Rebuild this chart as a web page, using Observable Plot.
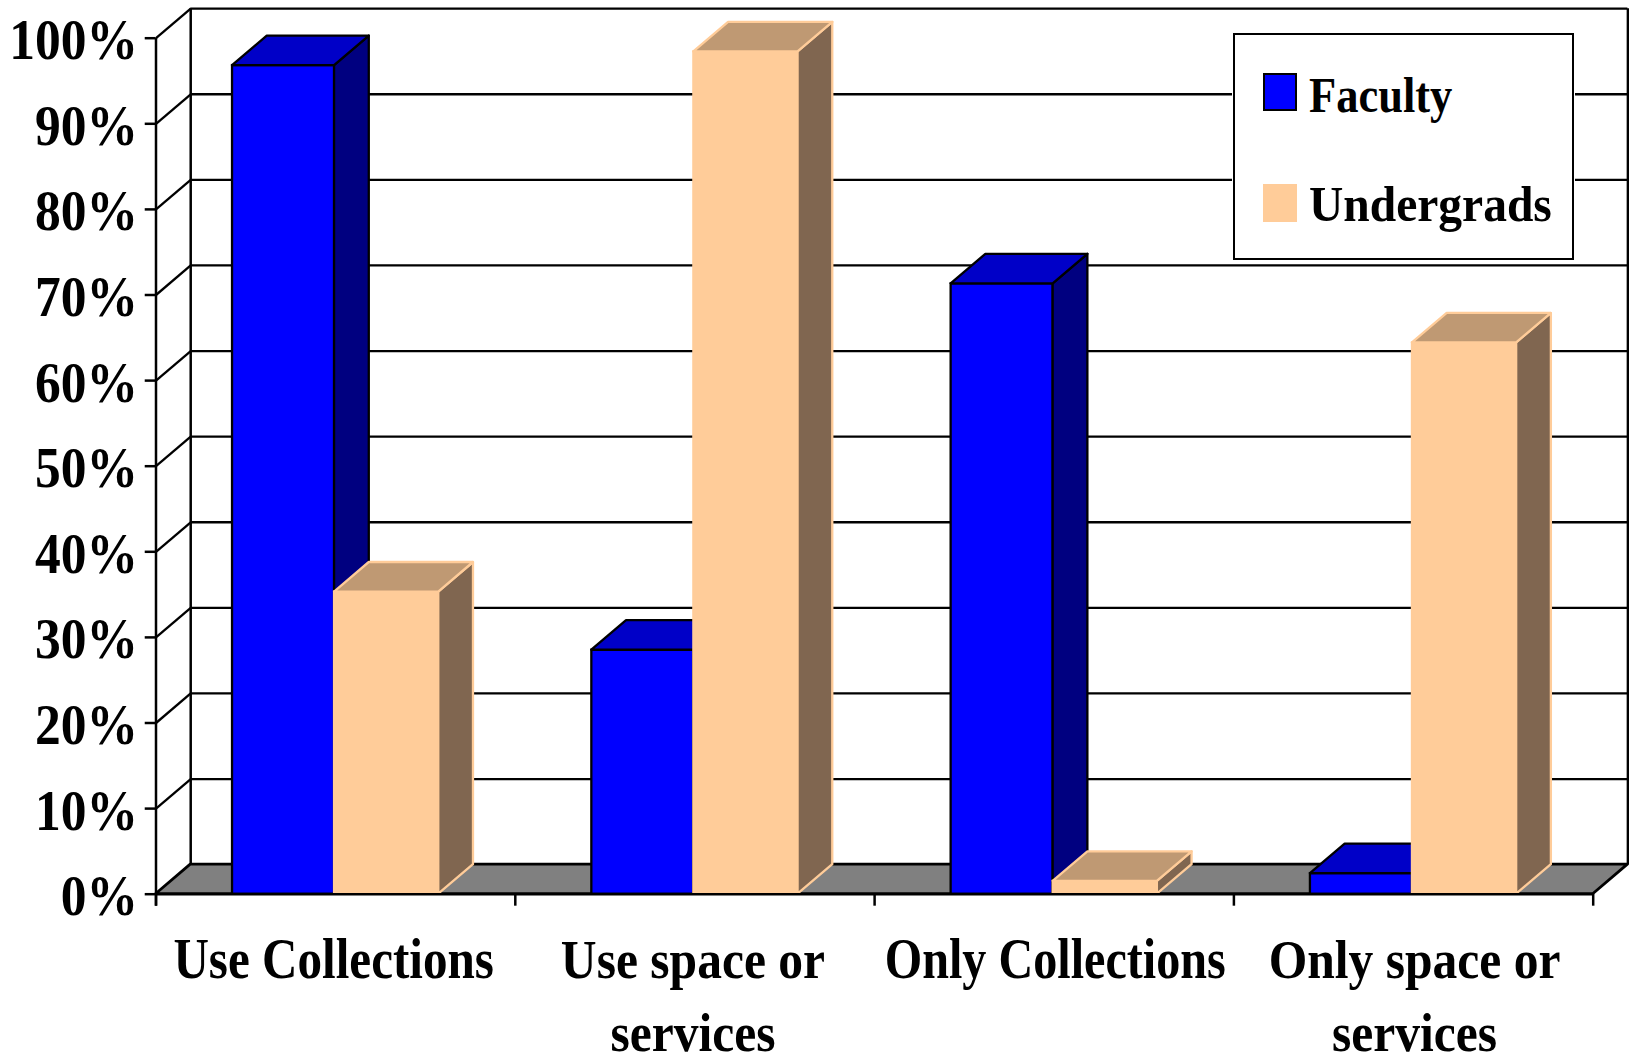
<!DOCTYPE html>
<html><head><meta charset="utf-8">
<script src="https://cdn.jsdelivr.net/npm/d3@7"></script>
<script src="https://cdn.jsdelivr.net/npm/@observablehq/plot@0.6"></script>
<style>
html,body{margin:0;padding:0;background:#fff;overflow:hidden}
#wrap{position:relative;width:1629px;height:1054px}
svg{display:block}
#legend{position:absolute;left:1233px;top:33px;width:337px;height:223px;border:2px solid #000;background:#fff;
 font:bold 50px "Liberation Serif",serif;color:#000;box-shadow:0 0 0 1px #fff}
#legend .row{position:absolute;left:0;height:50px;white-space:nowrap}
#legend i{position:absolute;left:28px;top:0;width:30px;height:34px;box-sizing:content-box}
#legend span{position:absolute;left:74px;top:-7px;display:block;transform-origin:0 50%}
</style></head><body><div id="wrap"></div>
<script>
const categories = ["Use Collections", "Use space or\nservices", "Only Collections", "Only space or\nservices"];
const faculty = [96.8, 28.5, 71.3, 2.4];
const undergrads = [35.3, 98.4, 1.5, 64.4];
const yTicks = [0,10,20,30,40,50,60,70,80,90,100];
const seriesNames = ["Faculty", "Undergrads"];

const DX = 0.0966, DY = 3.45;          // depth of the 3D projection, in data units
const fs = {f:"#0000ff", t:"#0000c8", s:"#000080", l:"#000"};
const us = {f:"#ffcc99", t:"#bf9973", s:"#806650", l:"#ffcc99"};

function bar(l, r, v, c) {
  return [
    Plot.rect([0], {x1:l, x2:r, y1:0, y2:v, fill:c.f, stroke:c.l, strokeWidth:2.3, inset:0}),
    Plot.areaY([{x:r,a:0,b:v},{x:r+DX,a:DY,b:v+DY}], {x:"x", y1:"a", y2:"b", fill:c.s, stroke:c.l, strokeWidth:2.3}),
    Plot.areaX([{y:v,a:l,b:r},{y:v+DY,a:l+DX,b:r+DX}], {y:"y", x1:"a", x2:"b", fill:c.t, stroke:c.l, strokeWidth:2.3})
  ];
}
const bars = categories.flatMap((_, i) => [
  ...bar(i+0.213, i+0.497, faculty[i], fs),
  ...bar(i+0.497, i+0.787, undergrads[i], us)
]);
const catLabel = (dx, keep) => Plot.text(categories, {filter:(d,i)=>keep(i), x:d=>categories.indexOf(d)+0.5, y:0, text:d=>d, dx, dy:33,
  lineAnchor:"top", lineHeight:1.29, textAnchor:"middle",
  fontFamily:"Liberation Serif", fontWeight:"bold", fontSize:56, fill:"#000"});

const chart = Plot.plot({
  width:1629, height:1054, margin:0,
  x:{type:"linear", domain:[0,4], range:[155.5,1592.7], axis:null},
  y:{type:"linear", domain:[0,100], range:[893.7,37.7], axis:null},
  marks:[
    // back wall grid
    Plot.ruleY(yTicks.slice(1), {y:d=>d+DY, x1:DX, x2:4+DX, stroke:"#000", strokeWidth:2.3, strokeOpacity:1}),
    Plot.link(yTicks, {x1:0, y1:d=>d, x2:DX, y2:d=>d+DY, stroke:"#000", strokeWidth:2.3}),
    Plot.ruleX([DX, 4+DX], {x:d=>d, y1:DY, y2:100+DY, stroke:"#000", strokeWidth:2.5}),
    // floor
    Plot.areaX([{y:0,a:0,b:4},{y:DY,a:DX,b:4+DX}], {y:"y", x1:"a", x2:"b", fill:"#808080", stroke:"#000", strokeWidth:2.8}),
    // front axes
    Plot.ruleX([0], {y1:-1.4, y2:100, stroke:"#000", strokeWidth:2.5}),
    Plot.ruleY(yTicks, {x1:-0.03, x2:0, stroke:"#000", strokeWidth:2.5}),
    Plot.ruleX(d3.range(5), {y1:-1.4, y2:0, stroke:"#000", strokeWidth:2.5}),
    ...bars,
    Plot.ruleY([0], {x1:0, x2:4, stroke:"#000", strokeWidth:2.5}),
    Plot.text(yTicks, {x:0, y:d=>d, text:d=>d+"%", dx:-18, dy:3, textAnchor:"end", lineAnchor:"middle",
      fontFamily:"Liberation Serif", fontWeight:"bold", fontSize:56, fill:"#000"}),
    catLabel(-2, i=>i<2),
    catLabel(1, i=>i>=2)
  ]
});
chart.querySelectorAll("text").forEach(t=>{
  const tr = t.getAttribute("transform") || "";
  const isY = /%/.test(t.textContent);
  const sx = isY ? .92 : /^Only C/.test(t.textContent) ? .86 : /space/.test(t.textContent) ? .885 : .877;
  t.setAttribute("transform", tr+` scale(${sx},1)`);
});
const wrap = document.getElementById("wrap");
wrap.append(chart);
const lg = document.createElement("div"); lg.id="legend";
[[fs,38,.89],[us,149,.95]].forEach(([c,top,sx],i)=>{
  const r=document.createElement("div"); r.className="row"; r.style.top=top+"px";
  const sw=document.createElement("i"); sw.style.background=c.f; sw.style.border="2px solid "+c.l;
  const s=document.createElement("span"); s.textContent=seriesNames[i]; s.style.transform=`scaleX(${sx})`;
  if(i===1) s.style.top="-9px";
  r.append(sw,s); lg.append(r);
});
wrap.append(lg);
</script></body></html>
